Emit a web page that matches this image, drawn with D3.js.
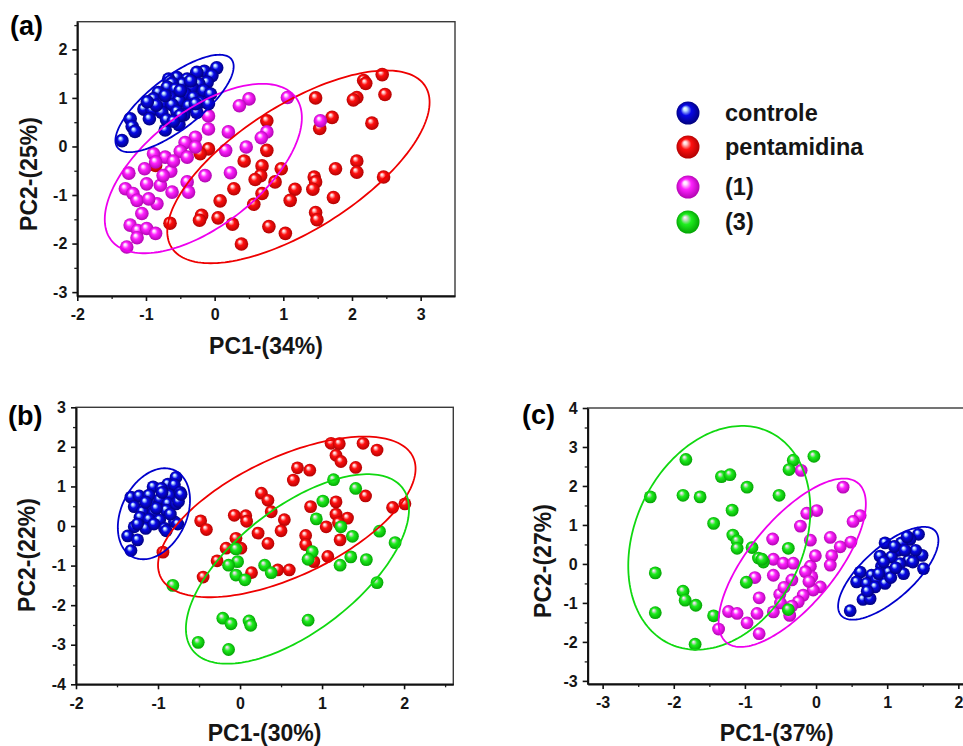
<!DOCTYPE html>
<html>
<head>
<meta charset="utf-8">
<script src="https://cdn.jsdelivr.net/npm/d3@7"></script>
<style>
  html, body { margin: 0; padding: 0; background: #fff; }
  svg { display: block; font-family: "Liberation Sans", Arial, Helvetica, sans-serif; }
</style>
</head>
<body>
<svg id="chart" width="963" height="746"></svg>
<script>
// ---------- data ----------
const groups = ["controle", "pentamidina", "(1)", "(3)"];
const groupKeys = ["controle", "pentamidina", "c1", "c3"];

// PCA scores, panel (a): PC1 (34%) vs PC2 (25%)
const controleA = [[0.03,1.62],[-0.15,1.55],[-0.26,1.53],[-0.04,1.46],[-0.55,1.42],[-0.67,1.39],[-0.40,1.39],[-0.11,1.32],[-0.23,1.29],[-0.47,1.29],[-0.62,1.30],[-0.69,1.22],[-0.57,1.18],[-0.33,1.22],[-0.16,1.15],[-0.82,1.11],[-0.43,1.08],[-0.06,1.08],[-0.64,1.01],[-0.89,0.98],[-0.31,1.01],[-0.52,0.94],[-0.21,0.91],[-0.77,0.88],[-0.62,0.86],[-0.38,0.84],[-0.09,0.88],[-1.03,0.77],[-0.91,0.75],[-0.77,0.70],[-0.55,0.72],[-0.45,0.65],[-0.95,0.57],[-1.23,0.57],[-1.20,0.41],[-1.16,0.31],[-0.72,0.34],[-0.52,0.45],[-0.50,0.64],[-1.35,0.12],[-0.26,0.70],[-0.70,0.55],[-0.85,0.85],[-0.35,1.35],[-0.50,1.15],[-0.72,1.05],[-0.28,0.88],[-0.98,0.92],[-0.60,0.52]];
const pentamidinaA = [[2.44,1.48],[2.17,1.36],[2.20,1.30],[2.48,1.07],[2.07,1.01],[2.02,0.96],[1.47,1.00],[1.71,0.60],[1.53,0.37],[2.29,0.48],[0.76,0.53],[0.76,-0.08],[-0.09,-0.05],[-0.21,-0.15],[0.43,-0.30],[0.69,-0.40],[0.97,-0.46],[0.67,-0.60],[0.59,-0.68],[0.88,-0.73],[0.28,-0.87],[0.69,-0.97],[0.57,-1.19],[0.08,-1.12],[1.17,-0.88],[1.10,-1.11],[1.45,-0.63],[1.47,-0.73],[1.43,-0.88],[1.76,-0.46],[2.07,-0.30],[2.07,-0.53],[2.46,-0.63],[1.73,-1.05],[1.47,-1.36],[1.49,-1.51],[1.03,-1.79],[0.79,-1.65],[0.26,-1.60],[0.39,-2.01],[0.05,-1.47],[-0.19,-1.42],[-0.22,-1.52],[-0.65,-1.58],[-0.86,-0.39]];
const comp1A = [[1.06,1.01],[1.54,0.53],[0.50,0.98],[0.36,0.84],[-0.09,0.63],[-0.09,0.36],[0.20,0.30],[0.76,0.30],[0.68,0.18],[0.46,-0.01],[0.16,-0.08],[-0.28,0.19],[-0.43,0.08],[-0.28,-0.01],[-0.50,-0.10],[-0.40,-0.22],[-0.72,-0.22],[-0.89,-0.15],[-0.86,-0.32],[-1.02,-0.46],[-1.25,-0.55],[-0.64,-0.51],[-0.14,-0.60],[0.23,-0.54],[-0.99,-0.77],[-0.79,-0.80],[-0.62,-0.94],[-0.40,-0.73],[-0.38,-0.94],[-1.30,-0.87],[-1.19,-0.97],[-1.13,-1.11],[-0.84,-1.18],[-1.06,-1.38],[-1.23,-1.62],[-1.12,-1.73],[-0.99,-1.69],[-0.86,-1.79],[-1.13,-1.88],[-1.28,-2.07],[-0.96,-1.08],[-0.60,-0.30],[-0.75,-0.60]];

// panel (b): PC1 (30%) vs PC2 (22%)
const controleB = [[-0.78,1.23],[-0.88,1.06],[-0.80,1.04],[-1.06,0.99],[-0.96,0.95],[-1.33,0.73],[-1.23,0.76],[-1.11,0.78],[-0.98,0.67],[-0.86,0.78],[-0.73,0.85],[-1.29,0.49],[-1.09,0.51],[-0.88,0.57],[-0.78,0.56],[-1.19,0.36],[-1.05,0.34],[-0.90,0.40],[-1.22,0.22],[-1.11,0.17],[-0.98,0.15],[-0.80,0.11],[-1.15,-0.06],[-0.92,-0.06],[-1.29,-0.02],[-1.37,-0.25],[-1.25,-0.35],[-1.33,-0.62],[-0.76,0.05],[-0.90,-0.12],[-0.75,0.62],[-1.02,0.45],[-0.95,0.85],[-1.15,0.60],[-0.85,0.30],[-1.25,0.05],[-1.05,0.05],[-0.72,0.80]];
const pentamidinaB = [[1.11,2.09],[1.21,2.08],[1.50,2.09],[1.67,1.92],[1.17,1.79],[1.23,1.63],[1.41,1.48],[0.70,1.47],[0.85,1.41],[0.65,1.16],[1.53,0.76],[0.26,0.83],[0.34,0.65],[1.17,0.61],[0.86,0.49],[1.86,0.47],[2.01,0.56],[-0.07,0.27],[0.07,0.26],[0.08,0.12],[0.38,0.36],[-0.48,0.13],[-0.41,-0.09],[0.54,0.16],[0.50,-0.12],[1.17,0.30],[1.31,0.20],[1.05,-0.02],[1.22,-0.35],[0.22,-0.18],[0.34,-0.44],[0.80,-0.24],[0.80,-0.47],[-0.05,-0.31],[0.01,-0.56],[-0.17,-0.56],[-0.28,-0.88],[1.07,-0.77],[0.90,-0.90],[0.14,-1.18],[0.46,-1.11],[0.60,-1.11],[-0.45,-1.29],[-0.94,-0.66],[1.20,0.08]];
const comp3B = [[1.14,1.17],[1.41,0.95],[1.01,0.63],[0.93,0.18],[1.23,-0.02],[1.37,-0.26],[1.70,-0.13],[1.89,-0.42],[0.88,-0.65],[0.83,-0.84],[1.35,-0.78],[1.22,-0.99],[1.54,-0.85],[1.67,-1.43],[-0.05,-0.58],[-0.03,-0.90],[-0.14,-0.99],[-0.05,-1.24],[0.06,-1.36],[0.30,-0.99],[0.38,-1.18],[-0.82,-1.50],[-0.21,-2.33],[-0.11,-2.47],[0.11,-2.40],[0.13,-2.51],[0.83,-2.38],[-0.51,-2.94],[-0.14,-3.12]];

// panel (c): PC1 (37%) vs PC2 (27%)
const controleC = [[1.44,0.76],[1.32,0.63],[1.20,0.54],[0.97,0.54],[1.49,0.22],[1.51,-0.12],[1.30,0.09],[1.16,0.35],[1.06,0.18],[0.90,0.20],[0.92,-0.06],[1.18,0.01],[1.02,-0.21],[1.23,-0.25],[1.40,0.35],[1.36,0.05],[0.62,-0.21],[0.78,-0.29],[0.57,-0.46],[0.71,-0.50],[0.85,-0.40],[0.83,-0.59],[0.97,-0.50],[0.66,-0.91],[0.76,-0.89],[0.48,-1.20],[1.28,0.70],[1.10,0.45],[0.95,0.05],[1.05,-0.35],[0.72,-0.70],[1.25,0.35],[0.88,-0.25],[1.12,-0.10]];
const comp1C = [[0.38,1.97],[-0.21,2.40],[0.01,1.37],[-0.13,1.30],[0.62,1.24],[0.52,1.09],[-0.22,0.97],[-0.61,0.64],[-0.08,0.61],[0.20,0.68],[0.34,0.44],[0.49,0.56],[-0.60,0.12],[-0.46,0.02],[-0.32,0.02],[-0.08,-0.06],[-0.01,0.21],[0.22,0.21],[0.20,-0.03],[-0.06,-0.33],[-0.86,-0.35],[-0.60,-0.29],[-0.34,-0.41],[0.06,-0.59],[-0.04,-0.67],[-0.80,-0.87],[-0.51,-0.78],[-0.18,-0.80],[-0.25,-0.97],[-0.34,-1.08],[-0.83,-1.27],[-0.60,-1.23],[-1.23,-1.22],[-1.11,-1.27],[-0.97,-1.51],[-1.37,-1.67],[-0.80,-1.79],[-0.37,-1.32],[-0.15,-0.20],[-0.45,-0.60],[-0.10,-0.45],[-0.50,-1.00]];
const comp3C = [[-1.83,2.68],[-1.33,2.24],[-1.21,2.29],[-0.32,2.66],[-0.38,2.42],[-0.03,2.76],[-2.33,1.72],[-1.87,1.76],[-1.63,1.72],[-0.97,1.97],[-0.52,1.76],[-1.18,1.38],[-1.44,1.04],[-1.17,0.74],[-1.11,0.59],[-1.11,0.40],[-0.90,0.42],[-0.39,0.40],[-0.81,0.15],[-0.74,0.05],[-2.26,-0.23],[-0.98,-0.47],[-1.87,-0.70],[-1.84,-0.93],[-1.69,-1.06],[-2.26,-1.25],[-1.44,-1.33],[-0.39,-1.17],[-1.70,-2.06],[-0.76,0.12]];

// confidence ellipses: centre, half-extents along PC1/PC2, and tilt term
// x = cx + rx*cos(t), y = cy + ry*cos(t - acos(tilt))
const ellipsesA = [
  { key: "pentamidina", cx: 1.22, cy: -0.42, rx: 1.91, ry: 1.985, tilt: 0.67 },
  { key: "c1", cx: -0.165, cy: -0.455, rx: 1.435, ry: 1.745, tilt: 0.60 },
  { key: "controle", cx: -0.584, cy: 0.886, rx: 0.861, ry: 1.003, tilt: 0.76 }
];
const ellipsesB = [
  { key: "pentamidina", cx: 0.57, cy: 0.23, rx: 1.57, ry: 2.03, tilt: 0.60 },
  { key: "c3", cx: 0.70, cy: -1.085, rx: 1.36, ry: 2.395, tilt: 0.63 },
  { key: "controle", cx: -1.05, cy: 0.31, rx: 0.44, ry: 1.15, tilt: 0.30 }
];
const ellipsesC = [
  { key: "c3", cx: -1.36, cy: 0.67, rx: 1.28, ry: 2.87, tilt: 0.25 },
  { key: "c1", cx: -0.335, cy: 0.03, rx: 1.035, ry: 2.16, tilt: 0.70 },
  { key: "controle", cx: 1.015, cy: -0.24, rx: 0.705, ry: 1.19, tilt: 0.71 }
];

const axisTitles = {
  a: ["PC1-(34%)", "PC2-(25%)"],
  b: ["PC1-(30%)", "PC2-(22%)"],
  c: ["PC1-(37%)", "PC2-(27%)"]
};

// ---------- styles ----------
const palette = {
  controle:    { base: "#0808e8", dark: "#000070", light: "#bfe4ff", line: "#0000cc" },
  pentamidina: { base: "#ff1010", dark: "#a80000", light: "#ffd0d0", line: "#ee0000" },
  c1:          { base: "#ff22ff", dark: "#a800a8", light: "#ffe0ff", line: "#ee00ee" },
  c3:          { base: "#1eee1e", dark: "#009a00", light: "#d8d8d8", line: "#10d810" }
};
const FONT = "'Liberation Sans', Arial, Helvetica, sans-serif";
const TXT = "#151515";

const svg = d3.select("#chart");
const defs = svg.append("defs");
groupKeys.forEach(k => {
  const c = palette[k];
  const g = defs.append("radialGradient")
    .attr("id", "ball-" + k)
    .attr("cx", "50%").attr("cy", "50%").attr("r", "55%")
    .attr("fx", "36%").attr("fy", "30%");
  g.append("stop").attr("offset", "0%").attr("stop-color", "#ffffff");
  g.append("stop").attr("offset", "14%").attr("stop-color", c.light);
  g.append("stop").attr("offset", "42%").attr("stop-color", c.base);
  g.append("stop").attr("offset", "100%").attr("stop-color", c.dark);
});

// ---------- panel drawing ----------
function drawPanel(p) {
  const x = d3.scaleLinear().domain(p.xDomain).range([p.left, p.right]);
  const y = d3.scaleLinear().domain(p.yDomain).range([p.bottom, p.top]);
  const g = svg.append("g");

  const ints = d => d3.range(Math.ceil(d[0]), Math.floor(d[1]) + 1);
  const halves = d => d3.range(Math.ceil(d[0] - 0.5), Math.floor(d[1] - 0.5) + 1).map(v => v + 0.5)
    .filter(v => v > d[0] && v < d[1]);

  // frame (top/right edges)
  g.append("rect")
    .attr("x", p.left).attr("y", p.top)
    .attr("width", p.right - p.left).attr("height", p.bottom - p.top)
    .attr("fill", "none").attr("stroke", "#3a3a3a").attr("stroke-width", 1.4);

  // minor ticks
  g.append("g").attr("transform", `translate(0,${p.bottom})`)
    .call(d3.axisBottom(x).tickValues(halves(p.xDomain)).tickSize(3).tickFormat("").tickSizeOuter(0))
    .call(s => s.select(".domain").remove())
    .call(s => s.selectAll("line").attr("stroke", "#222").attr("stroke-width", 1.3));
  g.append("g").attr("transform", `translate(${p.left},0)`)
    .call(d3.axisLeft(y).tickValues(halves(p.yDomain)).tickSize(3).tickFormat("").tickSizeOuter(0))
    .call(s => s.select(".domain").remove())
    .call(s => s.selectAll("line").attr("stroke", "#222").attr("stroke-width", 1.3));

  // major ticks + labels
  const fmt = v => (v < 0 ? "-" : "") + Math.abs(v);
  g.append("g").attr("transform", `translate(0,${p.bottom})`)
    .call(d3.axisBottom(x).tickValues(ints(p.xDomain)).tickSize(5).tickPadding(8).tickFormat(fmt).tickSizeOuter(0))
    .call(s => s.select(".domain").attr("stroke", "#111").attr("stroke-width", 2))
    .call(s => s.selectAll("line").attr("stroke", "#111").attr("stroke-width", 1.6))
    .call(s => s.selectAll("text").attr("font-family", FONT).attr("font-size", 16)
      .attr("font-weight", "bold").attr("fill", TXT));
  g.append("g").attr("transform", `translate(${p.left},0)`)
    .call(d3.axisLeft(y).tickValues(ints(p.yDomain)).tickSize(5).tickPadding(5).tickFormat(fmt).tickSizeOuter(0))
    .call(s => s.select(".domain").attr("stroke", "#111").attr("stroke-width", 2))
    .call(s => s.selectAll("line").attr("stroke", "#111").attr("stroke-width", 1.6))
    .call(s => s.selectAll("text").attr("font-family", FONT).attr("font-size", 16)
      .attr("font-weight", "bold").attr("fill", TXT));

  // points
  p.series.forEach(sr => {
    g.append("g").selectAll("circle").data(sr.values).join("circle")
      .attr("cx", d => x(d[0])).attr("cy", d => y(d[1]))
      .attr("r", p.radius)
      .attr("fill", `url(#ball-${sr.key})`);
  });

  // ellipses
  const line = d3.line().x(d => x(d[0])).y(d => y(d[1])).curve(d3.curveLinearClosed);
  p.ellipses.forEach(e => {
    const phi = Math.acos(e.tilt);
    const pts = d3.range(0, 360, 2).map(a => {
      const t = a * Math.PI / 180;
      return [e.cx + e.rx * Math.cos(t), e.cy + e.ry * Math.cos(t - phi)];
    });
    g.append("path").attr("d", line(pts))
      .attr("fill", "none").attr("stroke", palette[e.key].line).attr("stroke-width", 1.8);
  });

  // titles
  g.append("text").attr("x", p.xTitle[0]).attr("y", p.xTitle[1])
    .attr("text-anchor", "middle").attr("font-family", FONT).attr("font-size", 23)
    .attr("font-weight", "bold").attr("fill", TXT).text(p.titles[0]);
  g.append("text")
    .attr("transform", `translate(${p.yTitle[0]},${p.yTitle[1]}) rotate(-90)`)
    .attr("text-anchor", "middle").attr("font-family", FONT).attr("font-size", 23)
    .attr("font-weight", "bold").attr("fill", TXT).text(p.titles[1]);
  g.append("text").attr("x", p.tag[0]).attr("y", p.tag[1])
    .attr("font-family", FONT).attr("font-size", 27)
    .attr("font-weight", "bold").attr("fill", "#000").text(p.tag[2]);
}

drawPanel({
  left: 77.3, right: 455, top: 21.7, bottom: 296,
  xDomain: [-2, 3.5], yDomain: [-3.08, 2.57], radius: 6.8,
  series: [
    { key: "pentamidina", values: pentamidinaA },
    { key: "c1", values: comp1A },
    { key: "controle", values: controleA }
  ],
  ellipses: ellipsesA,
  titles: axisTitles.a, xTitle: [266, 354], yTitle: [37, 174], tag: [10, 35, "(a)"]
});

drawPanel({
  left: 76, right: 453.3, top: 407.3, bottom: 684.3,
  xDomain: [-2, 2.6], yDomain: [-4, 3], radius: 6.4,
  series: [
    { key: "controle", values: controleB },
    { key: "pentamidina", values: pentamidinaB },
    { key: "c3", values: comp3B }
  ],
  ellipses: ellipsesB,
  titles: axisTitles.b, xTitle: [264.6, 741], yTitle: [35, 555], tag: [8, 425, "(b)"]
});

drawPanel({
  left: 587.7, right: 993.9, top: 408, bottom: 684,
  xDomain: [-3.21, 2.5], yDomain: [-3.08, 4], radius: 6.4,
  series: [
    { key: "c1", values: comp1C },
    { key: "c3", values: comp3C },
    { key: "controle", values: controleC }
  ],
  ellipses: ellipsesC,
  titles: axisTitles.c, xTitle: [776.7, 741], yTitle: [551, 561], tag: [522, 424, "(c)"]
});

// ---------- legend ----------
const legendRows = [113, 147, 187, 222];
const legend = svg.append("g");
groups.forEach((name, i) => {
  legend.append("circle").attr("cx", 688).attr("cy", legendRows[i]).attr("r", 11.5)
    .attr("fill", `url(#ball-${groupKeys[i]})`);
  legend.append("text").attr("x", 725).attr("y", legendRows[i] + 8)
    .attr("font-family", FONT).attr("font-size", 23.5).attr("font-weight", "bold")
    .attr("fill", TXT).text(name);
});
</script>
</body>
</html>
